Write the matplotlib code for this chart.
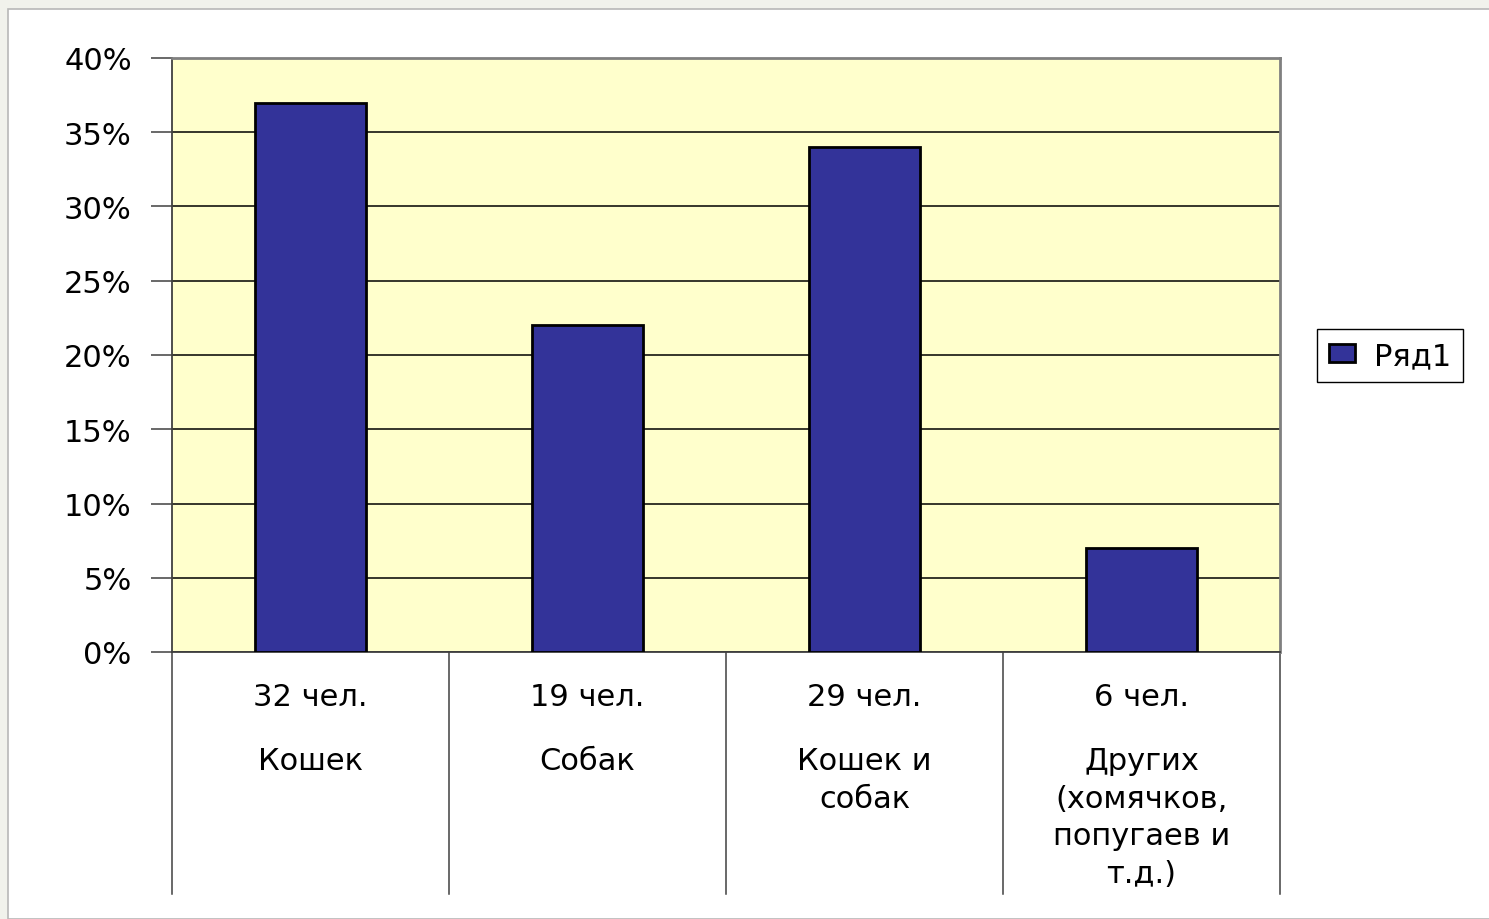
import matplotlib
matplotlib.use("Agg")
import matplotlib.pyplot as plt
from matplotlib.patches import Rectangle
from matplotlib.ticker import FuncFormatter, MultipleLocator

# Data
counts = ["32 чел.", "19 чел.", "29 чел.", "6 чел."]
names = ["Кошек", "Собак", "Кошек и\nсобак", "Других\n(хомячков,\nпопугаев и\nт.д.)"]
shares = [37, 22, 34, 7]
series_name = "Ряд1"

plt.rcParams['font.family'] = ['DejaVu Sans']

fig = plt.figure(figsize=(14.89, 9.2), dpi=100)
fig.patch.set_facecolor('#F1F2EC')

# white slide panel behind everything
panel = Rectangle((8 / 1489, 0), 1.0, 1 - 10 / 920, transform=fig.transFigure,
                  facecolor='white', edgecolor='#B8B8B8', linewidth=1.2, zorder=-10)
fig.patches.append(panel)

ax = fig.add_axes([172 / 1489, 267 / 920, 1108 / 1489, 594 / 920])
ax.set_facecolor('#FFFFCC')

x = list(range(len(shares)))
ax.bar(x, shares, width=0.4, color='#333399', edgecolor='black', linewidth=2,
       label=series_name, zorder=3)

ax.set_xlim(-0.5, len(shares) - 0.5)
ax.set_ylim(0, 40)
ax.yaxis.set_major_locator(MultipleLocator(5))
ax.yaxis.set_major_formatter(FuncFormatter(lambda v, p: f"{v:.0f}%"))
ax.grid(axis='y', color='black', linewidth=1.1, zorder=1)
ax.set_axisbelow(True)

ax.tick_params(axis='y', direction='out', length=15, width=1.1, color='#404040',
               labelsize=22, pad=14)
ax.set_xticks([])

for side in ['top', 'right']:
    ax.spines[side].set_color('#808080')
    ax.spines[side].set_linewidth(2)
ax.spines['left'].set_color('#404040')
ax.spines['left'].set_linewidth(1.3)
ax.spines['bottom'].set_color('#404040')
ax.spines['bottom'].set_linewidth(1.3)

# category dividers below the axis
trans = ax.get_xaxis_transform()
for b in [i - 0.5 for i in range(len(shares) + 1)]:
    ax.plot([b, b], [0, -242 / 594], transform=trans, color='#404040',
            linewidth=1.1, clip_on=False)

for i in x:
    ax.text(i, -44 / 594, counts[i], transform=trans, ha='center', va='center',
            fontsize=22)
    ax.text(i, -94 / 594, names[i], transform=trans, ha='center', va='top',
            fontsize=22, linespacing=1.37)

leg = fig.legend(loc='center left', bbox_to_anchor=(1317 / 1489, 1 - 356.5 / 920),
                 borderaxespad=0, fancybox=False, edgecolor='black', framealpha=1,
                 fontsize=22, handlelength=0.85, handleheight=0.5, handletextpad=0.6,
                 borderpad=0.4)
leg.get_frame().set_linewidth(1.0)

fig.savefig('out.png', dpi=100, facecolor=fig.get_facecolor())
